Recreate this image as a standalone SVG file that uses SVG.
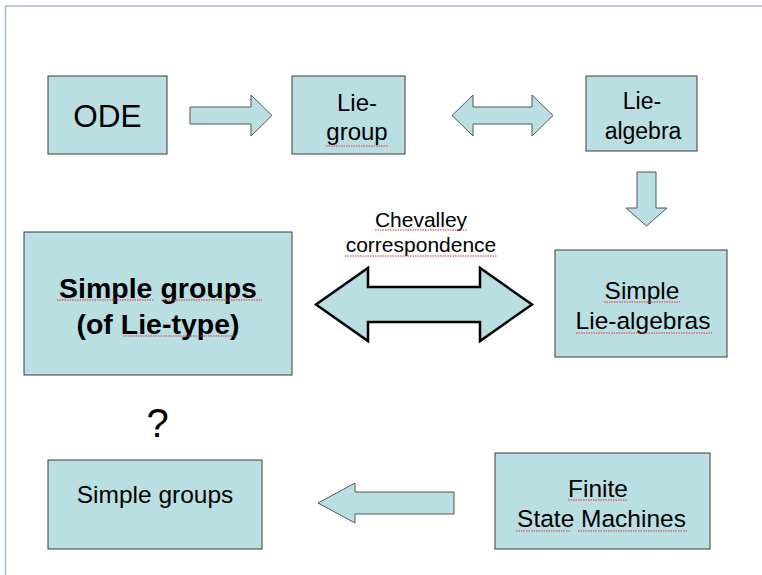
<svg xmlns="http://www.w3.org/2000/svg" width="762" height="575" viewBox="0 0 762 575">
<style>
.box{fill:#badfe3;stroke:#3a3a3a;stroke-width:1}
.arr{fill:#badfe3;stroke:#555;stroke-width:1}
.big{fill:#badfe3;stroke:#000;stroke-width:2.5}
text{font-family:"Liberation Sans",Arial,sans-serif;fill:#000;text-anchor:middle}
.sp{fill:none;stroke:#e03030;stroke-width:1;stroke-dasharray:1.5 1}
</style>
<g id="frame">
<line x1="5" y1="6" x2="762" y2="6" stroke="#9bb8d8" stroke-width="1.5"/>
<line x1="5.5" y1="6" x2="5.5" y2="575" stroke="#9bb8d8" stroke-width="1.5"/>
</g>
<g id="connectors">
<polygon class="arr" points="190,107 251,107 251,95 272,115.5 251,136 251,124 190,124"/>
<polygon class="arr" points="452,115.5 473,95 473,107 532,107 532,95 553,115.5 532,136 532,124 473,124 473,136"/>
<polygon class="arr" points="637,172 656,172 656,208 667,208 646.5,226 626,208 637,208"/>
<polygon class="big" points="316,304.5 368,268 368,287 480,287 480,268 532,304.5 480,341 480,322 368,322 368,341"/>
<polygon class="arr" points="454,492 355,492 355,483 318,503 355,523 355,514 454,514"/>
</g>
<g id="n-ode">
<rect class="box" x="48" y="76" width="119" height="78"/>
<text x="107.5" y="127" font-size="31.5">ODE</text>
</g>
<g id="n-liegroup">
<rect class="box" x="292" y="76" width="113" height="78"/>
<text x="357" y="111" font-size="24">Lie-</text>
<text x="357" y="140" font-size="24">group</text>
<path class="sp" d="M326,146 H388"/>
</g>
<g id="n-liealgebra">
<rect class="box" x="586" y="76" width="111" height="75"/>
<text x="642" y="109" font-size="23">Lie-</text>
<text x="643" y="139" font-size="23">algebra</text>
</g>
<g id="lbl-chevalley">
<text x="421" y="227" font-size="21">Chevalley</text>
<text x="421" y="252" font-size="21">correspondence</text>
<path class="sp" d="M375,230 H467"/>
<path class="sp" d="M345,256 H497"/>
</g>
<g id="n-simplelie">
<rect class="box" x="555" y="250" width="172" height="107"/>
<text x="642" y="299" font-size="24.5">Simple</text>
<text x="643" y="329" font-size="24.5">Lie-algebras</text>
<path class="sp" d="M604,302 H680"/>
<path class="sp" d="M576,333 H712"/>
</g>
<g id="n-simplegroupslie">
<rect class="box" x="24" y="232" width="268" height="143"/>
<text x="158" y="298" font-size="28.5" font-weight="bold">Simple groups</text>
<text x="158" y="334" font-size="28.5" font-weight="bold">(of Lie-type)</text>
<path class="sp" d="M57,300 H154 M161,300 H262"/>
<path class="sp" d="M123,336 H236"/>
</g>
<text x="157.5" y="437" font-size="40">?</text>
<g id="n-simplegroups">
<rect class="box" x="48" y="460" width="214" height="89"/>
<text x="155" y="503" font-size="24.5">Simple groups</text>
</g>
<g id="n-fsm">
<rect class="box" x="495" y="453" width="215" height="96"/>
<text x="598" y="497" font-size="24.5">Finite</text>
<text x="601.5" y="527" font-size="24.5">State Machines</text>
<path class="sp" d="M568,500 H628"/>
<path class="sp" d="M516,531 H571 M578,531 H688"/>
</g>
</svg>
